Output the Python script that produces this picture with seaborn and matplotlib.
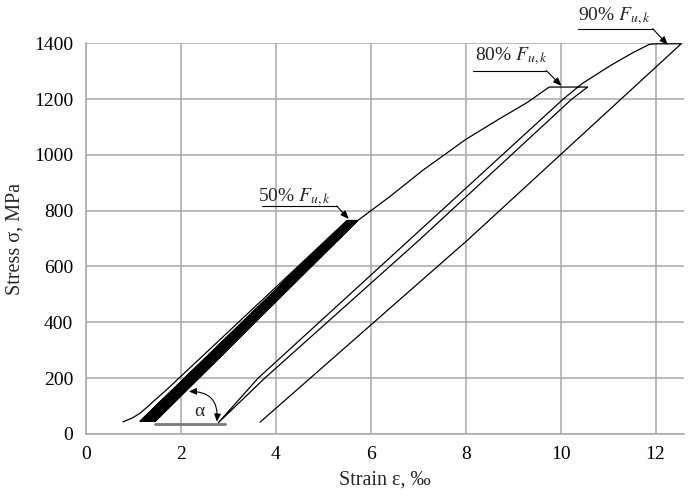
import numpy as np
import pandas as pd
import matplotlib
matplotlib.use('Agg')
import matplotlib.pyplot as plt
import seaborn as sns

# Initial loading (start of the first cycle), strain in permille, stress in MPa
initial_eps = [0.78, 0.98, 1.14, 1.28, 1.42, 1.56, 1.70]
initial_sig = [43, 57, 74, 94, 116, 137, 158]

# Cyclic loading to 50% Fu,k: lower and upper strain of each cycle
cycle_sig_min = 45
cycle_sig_max = 765
cycle_eps_min = [1.10, 1.14, 1.17, 1.20, 1.23, 1.25, 1.27, 1.29, 1.31, 1.33,
                 1.35, 1.36, 1.38, 1.39, 1.41, 1.42, 1.43, 1.44, 1.45, 1.46]
cycle_eps_max = [5.50, 5.52, 5.54, 5.56, 5.57, 5.59, 5.60, 5.61, 5.62, 5.63,
                 5.64, 5.65, 5.66, 5.67, 5.68, 5.69, 5.70, 5.71, 5.72, 5.73]

# Loading to 80% Fu,k and holding
load80_eps = [6.40, 7.10, 8.00, 8.70, 9.30, 9.76, 10.57]
load80_sig = [850, 945, 1055, 1128, 1188, 1243, 1243]

# Unloading from 80%
unload80_eps = [10.23, 7.03, 3.77, 2.79]
unload80_sig = [1199, 696, 200, 40]

# Reloading to 90% Fu,k and holding
load90_eps = [3.63, 6.82, 10.05, 10.45, 11.04, 11.52, 11.87, 12.01, 12.54]
load90_sig = [200, 696, 1199, 1255, 1319, 1366, 1396, 1398, 1398]

# Final unloading
unload90_eps = [8.05, 3.67]
unload90_sig = [696, 42]

# build one continuous path
eps = list(initial_eps)
sig = list(initial_sig)
for i in range(len(cycle_eps_min)):
    if i > 0:
        eps.append(cycle_eps_min[i])
        sig.append(cycle_sig_min)
    eps.append(cycle_eps_max[i])
    sig.append(cycle_sig_max)
eps += load80_eps + unload80_eps + load90_eps + unload90_eps
sig += load80_sig + unload80_sig + load90_sig + unload90_sig
df = pd.DataFrame({'strain': eps, 'stress': sig, 'step': range(len(eps))})

sns.set_style('whitegrid')
plt.rcParams['font.family'] = ['Liberation Serif', 'DejaVu Serif']
plt.rcParams['mathtext.fontset'] = 'stix'

fig = plt.figure(figsize=(6.98, 4.97), dpi=100)
ax = fig.add_axes([0.123, 0.127, 0.857, 0.786])

sns.lineplot(data=df, x='strain', y='stress', sort=False, estimator=None,
             color='black', linewidth=0.9, ax=ax)

ax.set_xlim(0, 12.6)
ax.set_ylim(0, 1400)
ax.set_xticks([0, 2, 4, 6, 8, 10, 12])
ax.set_yticks([0, 200, 400, 600, 800, 1000, 1200, 1400])
ax.grid(True, color='#a8a8a8', linewidth=1.1)
ax.set_axisbelow(True)
for s in ['top', 'right']:
    ax.spines[s].set_visible(False)
for s in ['left', 'bottom']:
    ax.spines[s].set_color('#a8a8a8')
    ax.spines[s].set_linewidth(1.1)
ax.tick_params(direction='out', length=5, width=1.0, color='#a8a8a8',
               labelsize=14, labelcolor='black', pad=4)
ax.set_xlabel('Strain ε, ‰', fontsize=14.5, labelpad=5)
ax.set_ylabel('Stress σ, MPa', fontsize=14.5, labelpad=7)

# annotations with underline leader
labels = [('50%', 3.62, 835, 3.71, 5.28, 817, 5.54, 770),
          ('80%', 8.19, 1338, 8.15, 9.70, 1302, 10.02, 1247),
          ('90%', 10.37, 1484, 10.37, 11.94, 1452, 12.26, 1394)]
for txt, tx, ty, ux0, ux1, uy, ax_, ay in labels:
    ax.text(tx, ty, txt + ' $F_{u,k}$', fontsize=14, ha='left', va='baseline',
            clip_on=False)
    ax.plot([ux0, ux1], [uy, uy], color='black', lw=0.8, clip_on=False)
    ax.annotate('', xy=(ax_, ay), xytext=(ux1, uy), annotation_clip=False,
                arrowprops=dict(arrowstyle='-|>,head_length=0.5,head_width=0.2',
                                color='black', lw=0.8, shrinkA=0, shrinkB=0))

# angle alpha
ax.plot([1.46, 2.93], [35, 35], color='#7a7a7a', lw=2)
ax.annotate('', xy=(2.17, 152), xytext=(2.76, 44),
            arrowprops=dict(arrowstyle='<|-|>,head_length=0.45,head_width=0.2',
                            color='black', lw=0.8, shrinkA=0, shrinkB=0,
                            connectionstyle='arc3,rad=0.55'))
ax.text(2.39, 80, 'α', fontsize=14, ha='center', va='center')

fig.savefig('out.png', dpi=100)
